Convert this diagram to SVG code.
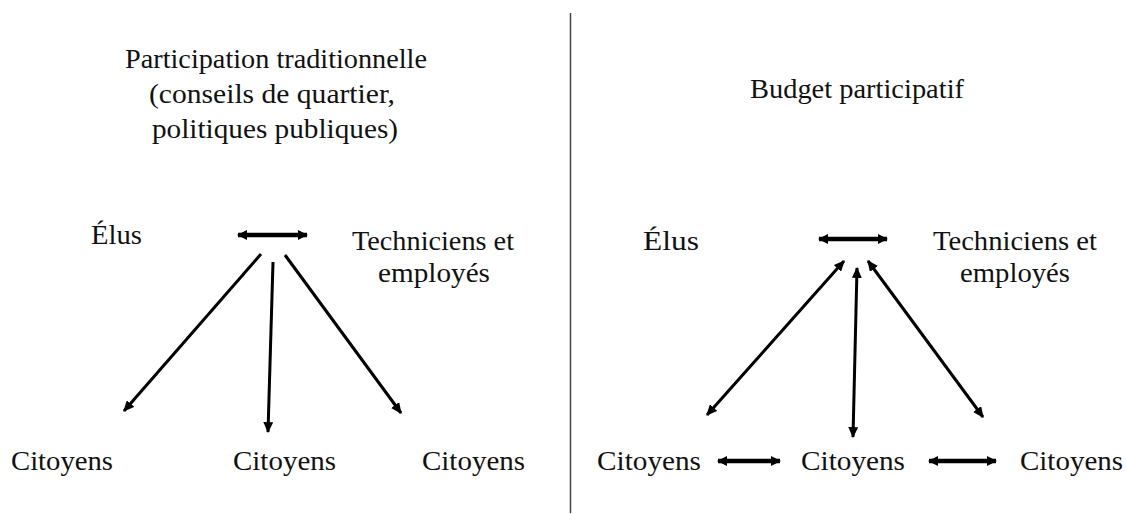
<svg xmlns="http://www.w3.org/2000/svg" width="1126" height="514" viewBox="0 0 1126 514">
<style>
.t{font-family:"Liberation Serif","Times New Roman",Times,"DejaVu Serif","Noto Serif",serif;font-size:27px;fill:#111}
.c{stroke:#000;stroke-width:3;fill:none}
.h{stroke:#000;stroke-width:4.5;fill:none}
</style>
<defs>
<marker id="a" viewBox="0 0 10 9" refX="9" refY="4.5" markerWidth="11" markerHeight="10" markerUnits="userSpaceOnUse" orient="auto-start-reverse"><path d="M0,0 L10,4.5 L0,9 z" fill="#000"/></marker>
<marker id="b" viewBox="0 0 10 10" refX="9" refY="5" markerWidth="10" markerHeight="11" markerUnits="userSpaceOnUse" orient="auto-start-reverse"><path d="M0,0 L10,5 L0,10 z" fill="#000"/></marker>
</defs>
<rect width="1126" height="514" fill="#fff"/>
<line x1="570.5" y1="13" x2="570.5" y2="513" stroke="#444" stroke-width="1.5"/>
<g class="t">
<g id="left-title">
<text x="125" y="68" textLength="302" lengthAdjust="spacingAndGlyphs">Participation traditionnelle</text>
<text x="149" y="103" textLength="246" lengthAdjust="spacingAndGlyphs">(conseils de quartier,</text>
<text x="152" y="138" textLength="246" lengthAdjust="spacingAndGlyphs">politiques publiques)</text>
</g>
<g id="left-elus"><text x="91" y="244" textLength="51" lengthAdjust="spacingAndGlyphs">Élus</text></g>
<g id="left-tech">
<text x="352" y="250" textLength="162" lengthAdjust="spacingAndGlyphs">Techniciens et</text>
<text x="378" y="282" textLength="112" lengthAdjust="spacingAndGlyphs">employés</text>
</g>
<g id="left-cit1"><text x="11" y="470" textLength="102" lengthAdjust="spacingAndGlyphs">Citoyens</text></g>
<g id="left-cit2"><text x="233" y="470" textLength="103" lengthAdjust="spacingAndGlyphs">Citoyens</text></g>
<g id="left-cit3"><text x="422" y="470" textLength="103" lengthAdjust="spacingAndGlyphs">Citoyens</text></g>
<g id="right-title"><text x="750" y="98" textLength="214" lengthAdjust="spacingAndGlyphs">Budget participatif</text></g>
<g id="right-elus"><text x="643" y="250" textLength="56" lengthAdjust="spacingAndGlyphs">Élus</text></g>
<g id="right-tech">
<text x="933" y="250" textLength="164" lengthAdjust="spacingAndGlyphs">Techniciens et</text>
<text x="960" y="282" textLength="110" lengthAdjust="spacingAndGlyphs">employés</text>
</g>
<g id="right-cit1"><text x="597" y="470" textLength="104" lengthAdjust="spacingAndGlyphs">Citoyens</text></g>
<g id="right-cit2"><text x="801" y="470" textLength="104" lengthAdjust="spacingAndGlyphs">Citoyens</text></g>
<g id="right-cit3"><text x="1020" y="470" textLength="103" lengthAdjust="spacingAndGlyphs">Citoyens</text></g>
</g>
<g id="connectors">
<line class="h" x1="238" y1="235" x2="307" y2="235" marker-start="url(#b)" marker-end="url(#b)"/>
<line class="c" x1="261" y1="254" x2="124" y2="411" marker-end="url(#a)"/>
<line class="c" x1="273" y1="262" x2="268" y2="432" marker-end="url(#a)"/>
<line class="c" x1="285" y1="255" x2="401" y2="413" marker-end="url(#a)"/>
<line class="h" x1="819" y1="239" x2="887" y2="239" marker-start="url(#b)" marker-end="url(#b)"/>
<line class="c" x1="844" y1="261" x2="707" y2="415" marker-start="url(#a)" marker-end="url(#a)"/>
<line class="c" x1="857" y1="268" x2="853" y2="437" marker-start="url(#a)" marker-end="url(#a)"/>
<line class="c" x1="868" y1="261" x2="983" y2="417" marker-start="url(#a)" marker-end="url(#a)"/>
<line class="h" x1="718" y1="461" x2="780" y2="461" marker-start="url(#b)" marker-end="url(#b)"/>
<line class="h" x1="929" y1="461" x2="996" y2="461" marker-start="url(#b)" marker-end="url(#b)"/>
</g>
</svg>
